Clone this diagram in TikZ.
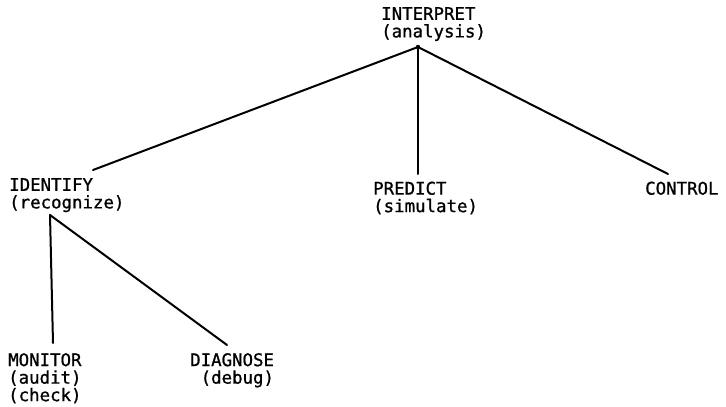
\documentclass[tikz,border=0pt]{standalone}
\usepackage{fontspec}
\newfontfamily\monofnt[FakeBold=0.9]{DejaVu Sans Mono}
\begin{document}
\begin{tikzpicture}[x=1pt,y=-1pt,
  lbl/.style={anchor=north west,inner sep=0pt,align=left,
    font=\monofnt\fontsize{17.4}{17.5}\selectfont},
  edge/.style={line width=2pt,line cap=round}]
\useasboundingbox (0,0) rectangle (726,407);
\node[lbl] (interp) at (381,7) {INTERPRET\\(analysis)};
\node[lbl] (identify) at (9,178) {IDENTIFY\\(recognize)};
\node[lbl] (predict) at (373,181.5) {PREDICT\\(simulate)};
\node[lbl] (control) at (645,181.5) {CONTROL};
\node[lbl] (monitor) at (8,353) {MONITOR\\(audit)\\(check)};
\node[lbl] (diagnose) at (190,353) {DIAGNOSE\\\phantom{D}(debug)};
\coordinate (jtop) at (418,47);
\coordinate (jid) at (50,215);
\coordinate (eid) at (93,170);
\coordinate (epr) at (418,174);
\coordinate (eco) at (668,174);
\coordinate (emo) at (53,343);
\coordinate (edi) at (227,345);
\draw[edge] (jtop) -- (eid);
\draw[edge] (jtop) -- (epr);
\draw[edge] (jtop) -- (eco);
\draw[edge] (jid) -- (emo);
\draw[edge] (jid) -- (edi);
\fill (jtop) circle (2.2pt);
\end{tikzpicture}
\end{document}
